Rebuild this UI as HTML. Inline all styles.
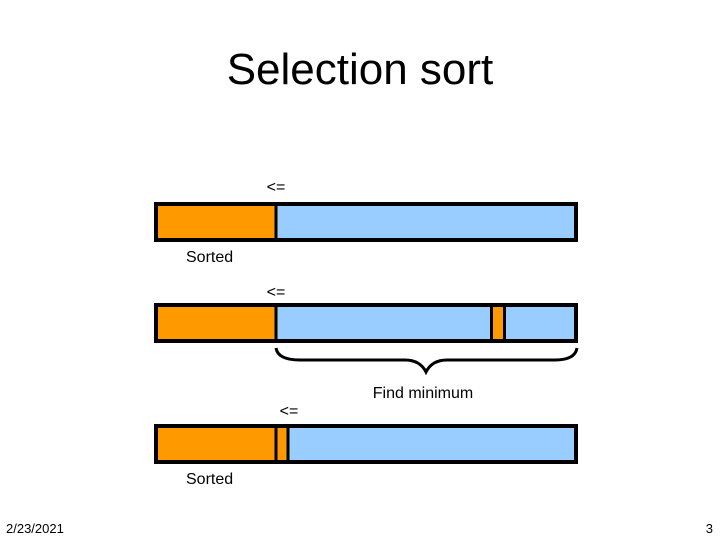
<!DOCTYPE html>
<html><head><meta charset="utf-8"><style>
html,body{margin:0;padding:0;background:#fff;}
svg{display:block;}
text{font-family:"Liberation Sans",Arial,sans-serif;fill:#000;}
</style></head><body>
<svg width="720" height="540" viewBox="0 0 720 540" xmlns="http://www.w3.org/2000/svg">
<text x="360" y="84" font-size="44" text-anchor="middle">Selection sort</text>

<text x="276" y="192" font-size="16" text-anchor="middle">&lt;=</text>
<rect x="156" y="204" width="120" height="36" fill="#ff9900"/>
<rect x="276" y="204" width="300" height="36" fill="#99ccff"/>
<rect x="156" y="204" width="420" height="36" fill="none" stroke="#000" stroke-width="4"/>
<line x1="276" y1="204" x2="276" y2="240" stroke="#000" stroke-width="3"/>
<text x="186" y="262" font-size="16">Sorted</text>

<text x="276" y="297" font-size="16" text-anchor="middle">&lt;=</text>
<rect x="156" y="305" width="120" height="36" fill="#ff9900"/>
<rect x="276" y="305" width="300" height="36" fill="#99ccff"/>
<rect x="492" y="305" width="12" height="36" fill="#ff9900"/>
<rect x="156" y="305" width="420" height="36" fill="none" stroke="#000" stroke-width="4"/>
<line x1="276" y1="305" x2="276" y2="341" stroke="#000" stroke-width="3"/>
<line x1="491.5" y1="305" x2="491.5" y2="341" stroke="#000" stroke-width="3"/>
<line x1="504.5" y1="305" x2="504.5" y2="341" stroke="#000" stroke-width="3"/>

<path d="M276,348 Q278,360 300,360 L405,360 Q420,360 426,372 Q432,360 447,360 L555,360 Q575,360 577,348" fill="none" stroke="#000" stroke-width="3"/>
<text x="423" y="398" font-size="16" text-anchor="middle">Find minimum</text>

<text x="289" y="416" font-size="16" text-anchor="middle">&lt;=</text>
<rect x="156" y="426" width="120" height="36" fill="#ff9900"/>
<rect x="276" y="426" width="12" height="36" fill="#ff9900"/>
<rect x="288" y="426" width="288" height="36" fill="#99ccff"/>
<rect x="156" y="426" width="420" height="36" fill="none" stroke="#000" stroke-width="4"/>
<line x1="276" y1="426" x2="276" y2="462" stroke="#000" stroke-width="3"/>
<line x1="288" y1="426" x2="288" y2="462" stroke="#000" stroke-width="3"/>
<text x="186" y="484" font-size="16">Sorted</text>

<text x="6" y="533" font-size="13">2/23/2021</text>
<text x="713" y="533" font-size="13" text-anchor="end">3</text>
</svg>
</body></html>
